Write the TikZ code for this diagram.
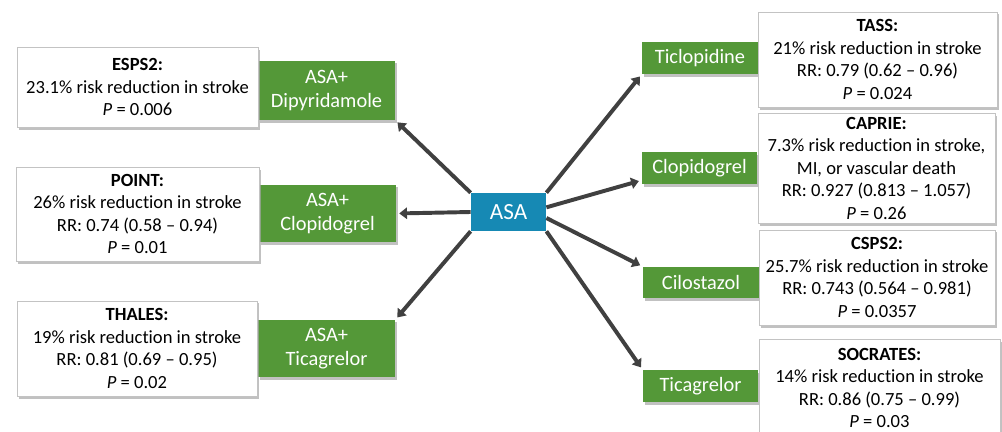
\documentclass[tikz,border=0pt]{standalone}
\usepackage{fontspec}
\setmainfont{Carlito}[Ligatures={TeX,NoCommon}]
\usetikzlibrary{arrows.meta,shadows}
\definecolor{drugGreen}{RGB}{84,152,56}
\definecolor{asaBlue}{RGB}{22,137,180}
\definecolor{arrowGray}{RGB}{64,64,64}
\definecolor{boxLine}{RGB}{195,195,195}
\tikzset{
	softshadow/.style={drop shadow={shadow xshift=1.4pt, shadow yshift=-1.8pt, fill=black!35, opacity=0.7}},
	trial/.style={draw=boxLine, fill=white, align=center, inner sep=1pt, softshadow, font=\fontsize{13.2}{16}\selectfont},
	drug/.style={fill=drugGreen, text=white, align=center, inner sep=1pt, softshadow, font=\fontsize{14.5}{17.3}\selectfont},
	hub/.style={fill=asaBlue, text=white, inner sep=1pt, font=\fontsize{16.5}{20}\selectfont},
	link/.style={draw=arrowGray, line width=2.8pt, -{Triangle[length=5.5pt, width=8pt]}, shorten >=2pt}
}

\begin{document}
\begin{tikzpicture}[x=0.025cm, y=-0.025cm]
		%%%%% START %%%%%
		\useasboundingbox (0, 0) rectangle (1002, 432);
		
		% left side
		\node[drug, minimum width=3.43cm, minimum height=1.48cm] (dipy) at (326.5, 90.5) {ASA+\\Dipyridamole};
		\node[trial, minimum width=6.03cm, minimum height=2.0cm] (esps) at (137.5, 87) {\textbf{ESPS2:}\\23.1\% risk reduction in stroke\\\textit{P} = 0.006};
		
		\node[drug, minimum width=3.43cm, minimum height=1.43cm] (clopL) at (327.5, 213.5) {ASA+\\Clopidogrel};
		\node[trial, minimum width=6.08cm, minimum height=2.35cm] (point) at (137.5, 214) {\textbf{POINT:}\\26\% risk reduction in stroke\\RR: 0.74 (0.58 -- 0.94)\\\textit{P} = 0.01};
		
		\node[drug, minimum width=3.43cm, minimum height=1.43cm] (ticaL) at (326.5, 348.5) {ASA+\\Ticagrelor};
		\node[trial, minimum width=6.0cm, minimum height=2.38cm] (thales) at (137, 348.5) {\textbf{THALES:}\\19\% risk reduction in stroke\\RR: 0.81 (0.69 -- 0.95)\\\textit{P} = 0.02};
		
		% centre
		\node[hub, minimum width=1.88cm, minimum height=0.95cm] (asa) at (508.5, 212) {ASA};
		
		% right side
		\node[drug, minimum width=2.9cm, minimum height=0.8cm] (ticlo) at (700, 58) {Ticlopidine};
		\node[trial, minimum width=5.98cm, minimum height=2.38cm] (tass) at (877.5, 59.5) {\textbf{TASS:}\\21\% risk reduction in stroke\\RR: 0.79 (0.62 -- 0.96)\\\textit{P} = 0.024};
		
		\node[drug, minimum width=2.88cm, minimum height=0.8cm] (clopR) at (699.5, 168) {Clopidogrel};
		\node[trial, minimum width=5.93cm, minimum height=2.75cm] (caprie) at (876.5, 168) {\textbf{CAPRIE:}\\7.3\% risk reduction in stroke,\\MI, or vascular death\\RR: 0.927 (0.813 -- 1.057)\\\textit{P} = 0.26};
		
		\node[drug, minimum width=2.9cm, minimum height=0.78cm] (cilo) at (701, 282.5) {Cilostazol};
		\node[trial, minimum width=5.9cm, minimum height=2.38cm] (csps) at (877, 277.5) {\textbf{CSPS2:}\\25.7\% risk reduction in stroke\\RR: 0.743 (0.564 -- 0.981)\\\textit{P} = 0.0357};
		
		\node[drug, minimum width=2.88cm, minimum height=0.8cm] (ticaR) at (700.5, 386) {Ticagrelor};
		\node[trial, minimum width=6.03cm, minimum height=2.45cm] (socrates) at (879.5, 388) {\textbf{SOCRATES:}\\14\% risk reduction in stroke\\RR: 0.86 (0.75 -- 0.99)\\\textit{P} = 0.03};
		
		% arrows
		\draw[link] (asa.north west) -- (dipy.south east);
		\draw[link] (asa.west) -- (clopL.east);
		\draw[link] (asa.south west) -- (ticaL.north east);
		\draw[link] (asa.north east) -- (ticlo.south west);
		\draw[link] (asa.7) -- (clopR.192);
		\draw[link] (asa.-9) -- (cilo.north west);
		\draw[link] (asa.south east) -- (ticaR.north west);
		%%%%% END %%%%%
\end{tikzpicture}
\end{document}
